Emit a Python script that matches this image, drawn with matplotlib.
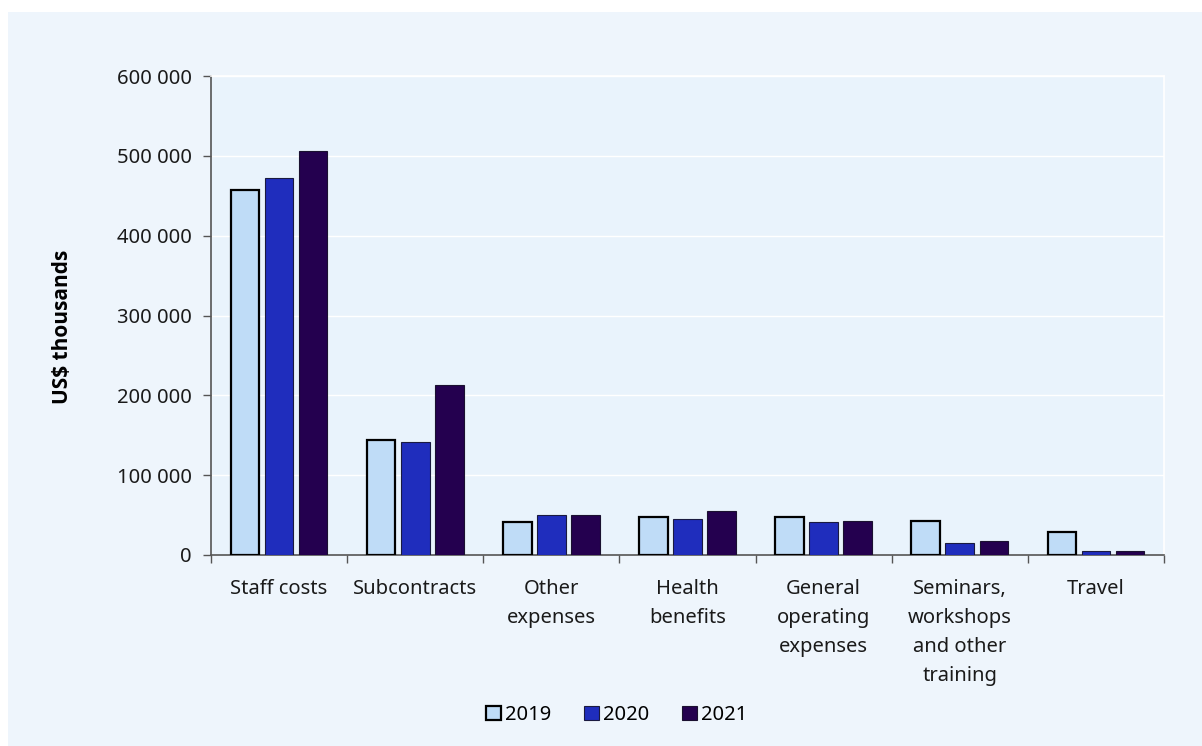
import matplotlib.pyplot as plt
import numpy as np
from matplotlib.patches import Rectangle
from matplotlib.ticker import FuncFormatter, FixedLocator

plt.rcParams['font.family'] = ['Noto Sans', 'DejaVu Sans']

categories = ['Staff costs', 'Subcontracts', 'Other\nexpenses', 'Health\nbenefits',
              'General\noperating\nexpenses', 'Seminars,\nworkshops\nand other\ntraining',
              'Travel']
years = ['2019', '2020', '2021']
values_2019 = [457000, 144000, 41000, 47500, 47500, 42500, 29000]
values_2020 = [472000, 141500, 50000, 45000, 41000, 15000, 5000]
values_2021 = [506000, 213000, 50000, 55000, 42500, 17500, 5000]
yticks = [0, 100000, 200000, 300000, 400000, 500000, 600000]

colors = ['#BFDCF7', '#1F2DBD', '#24004F']
edges = ['#000000', '#1a1a40', '#1a1030']
edge_w = [1.6, 0.8, 0.8]

W, H = 1202, 746
fig = plt.figure(figsize=(W / 100, H / 100), dpi=100)
fig.patch.set_facecolor('white')
fig.patches.append(Rectangle((8 / W, 0), 1 - 8 / W, 1 - 12 / H,
                             transform=fig.transFigure, facecolor='#EEF5FC',
                             edgecolor='none', zorder=-10))

ax = fig.add_axes([211 / W, 1 - 555 / H, (1164 - 211) / W, (555 - 76) / H])
ax.set_facecolor('#E9F3FC')

x = np.arange(len(categories))
series = [values_2019, values_2020, values_2021]
for i, vals in enumerate(series):
    ax.bar(x + (i - 1) * 0.25, vals, width=0.21, color=colors[i],
           edgecolor=edges[i], linewidth=edge_w[i], label=years[i], zorder=3)

ax.set_xlim(-0.5, len(categories) - 0.5)
ax.set_ylim(0, 600000)
ax.set_yticks(yticks)
ax.yaxis.set_major_formatter(FuncFormatter(lambda v, p: f'{int(v):,}'.replace(',', ' ')))
ax.grid(axis='y', color='white', linewidth=1.0, zorder=0)

ax.set_xticks(x)
ax.set_xticklabels(categories, fontsize=14.5, color='#1a1a1a', linespacing=1.6, va='top')
ax.tick_params(axis='x', which='major', length=0, pad=17)
ax.xaxis.set_minor_locator(FixedLocator(np.arange(-0.5, len(categories), 1.0)))
ax.tick_params(axis='x', which='minor', length=6, color='#555555', width=1)
ax.tick_params(axis='y', length=6, color='#555555', width=1, labelsize=14.5,
               labelcolor='#1a1a1a', pad=8)

for s in ['top', 'right']:
    ax.spines[s].set_color('white')
    ax.spines[s].set_linewidth(1.2)
for s in ['left', 'bottom']:
    ax.spines[s].set_color('#555555')
    ax.spines[s].set_linewidth(1.2)

fig.text(63 / W, 1 - 327 / H, 'US$ thousands', rotation=90, fontsize=15,
         fontweight='bold', family=['Open Sans', 'Noto Sans', 'DejaVu Sans'],
         ha='center', va='center', color='black')

leg = ax.legend(loc='center', bbox_to_anchor=(0.513, 1 - 715 / H), bbox_transform=fig.transFigure,
                ncol=3, frameon=False, fontsize=14.5, handlelength=0.75, handleheight=0.75,
                handletextpad=0.2, columnspacing=1.6)

fig.savefig('out.png', dpi=100, facecolor=fig.get_facecolor())
